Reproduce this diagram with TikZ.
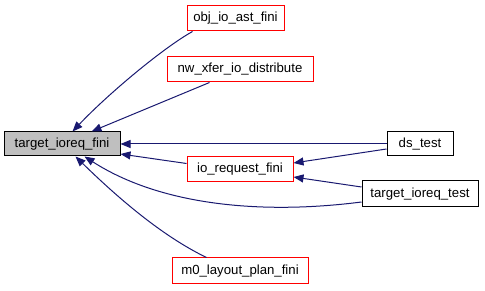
\documentclass[tikz,border=0pt]{standalone}
\usepackage{fontspec}
\setmainfont{Liberation Sans}
\usetikzlibrary{arrows.meta,calc}
\definecolor{edgeblue}{RGB}{25,25,112}
\definecolor{nodegray}{RGB}{191,191,191}
\definecolor{linkred}{RGB}{255,0,0}
\begin{document}
\begin{tikzpicture}[x=1pt,y=-1pt,
  box/.style={draw=black,line width=1pt,fill=white,inner sep=0pt,
    minimum height=25pt,font=\fontsize{13.2}{15}\selectfont},
  current/.style={box,fill=nodegray},
  redbox/.style={box,draw=linkred},
  call/.style={draw=edgeblue,line width=1pt,
    -{Triangle[length=10pt,width=8pt,fill=edgeblue]}}]
\useasboundingbox (0,0) rectangle (485,291);

% nodes
\node[current,minimum width=116pt,minimum height=24pt] (tif) at (62,144) {target\_ioreq\_fini};
\node[redbox,minimum width=97pt]  (obj)  at (235.5,18.5) {obj\_io\_ast\_fini};
\node[redbox,minimum width=146pt] (nw)   at (240,69.5)   {nw\_xfer\_io\_distribute};
\node[redbox,minimum width=106pt] (iorf) at (240,169.5)  {io\_request\_fini};
\node[redbox,minimum width=136pt,minimum height=26pt] (m0) at (240,271) {m0\_layout\_plan\_fini};
\node[box,minimum width=66pt,minimum height=24pt] (ds) at (420,144) {ds\_test};
\node[box,minimum width=116pt,minimum height=26pt] (tit) at (420,194) {target\_ioreq\_test};

% callers of target_ioreq_fini
\draw[call] ($(obj.south west)+(6,0)$) .. controls (163,48) and (108,94) .. ($(tif.north west)+(69,0)$);
\draw[call] ($(nw.south west)+(43,0)$) -- ($(tif.north west)+(88,0)$);
\draw[call] (ds.west) -- (tif.east);
\draw[call] ($(iorf.west)+(0,-6)$) -- ($(tif.east)+(0,10)$);
\draw[call] ($(tit.west)+(0,8)$) .. controls (260,215) and (160,205) .. ($(tif.south west)+(81,0)$);
\draw[call] ($(m0.north west)+(35,0)$) .. controls (160,235) and (115,195) .. ($(tif.south west)+(72,0)$);

% callers of io_request_fini
\draw[call] ($(ds.west)+(0,5)$) -- ($(iorf.east)+(0,-6.5)$);
\draw[call] ($(tit.west)+(0,-7)$) -- ($(iorf.east)+(0,7.5)$);
\end{tikzpicture}
\end{document}
